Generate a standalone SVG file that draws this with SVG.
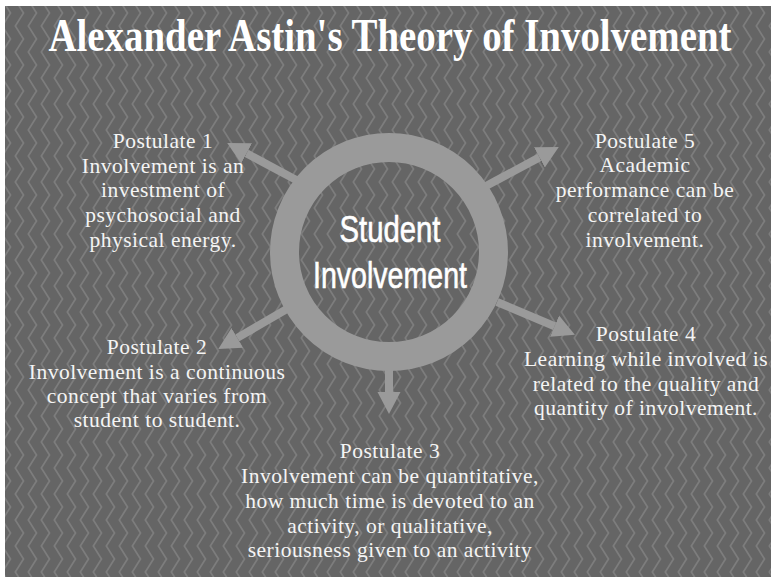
<svg xmlns="http://www.w3.org/2000/svg" width="771" height="577" viewBox="0 0 771 577">
<defs>
<pattern id="zig" x="0" y="0" width="13" height="26" patternUnits="userSpaceOnUse">
<rect width="13" height="26" fill="#656565"/>
<polyline points="2,-0.5 10.5,13 2,26.5" fill="none" stroke="#7d7d7d" stroke-width="1.7"/>
</pattern>
<marker id="head" markerUnits="userSpaceOnUse" markerWidth="24" markerHeight="26" refX="0" refY="12" orient="auto" viewBox="0 0 24 24">
<path d="M0,0.5 L22,12 L0,23.5 z" fill="#9a9a9a"/>
</marker>
<style>
.post{font-family:"Liberation Serif","Times New Roman",serif;font-size:21.5px;letter-spacing:0.5px;fill:#f4f4f4;text-anchor:middle}
.arrow{stroke:#9a9a9a;stroke-width:8;fill:none;marker-end:url(#head)}
.ctr{font-family:"Liberation Sans",sans-serif;font-size:37px;fill:#ffffff;stroke:#ffffff;stroke-width:0.6;text-anchor:middle}
</style>
</defs>
<rect width="771" height="577" fill="#ffffff"/>
<rect x="5" y="6" width="766" height="571" fill="url(#zig)"/>
<g id="title" transform="translate(390,51) scale(1,1.15)">
<text x="0" y="0" font-family="Liberation Serif, serif" font-weight="bold" font-size="40" fill="#ffffff" text-anchor="middle" textLength="683" lengthAdjust="spacingAndGlyphs">Alexander Astin's Theory of Involvement</text>
</g>
<g id="connectors">
<line class="arrow" x1="300" y1="182" x2="246.6" y2="153.4"/>
<line class="arrow" x1="486" y1="186" x2="539.4" y2="157.4"/>
<line class="arrow" x1="292" y1="306" x2="237.3" y2="337.9"/>
<line class="arrow" x1="497" y1="302" x2="554.6" y2="326.2"/>
<line class="arrow" x1="389" y1="370" x2="389" y2="392"/>
</g>
<g id="center">
<circle cx="389" cy="252" r="104.5" fill="none" stroke="#9a9a9a" stroke-width="29"/>
<text class="ctr" x="390" y="242" textLength="101" lengthAdjust="spacingAndGlyphs">Student</text>
<text class="ctr" x="390" y="288" textLength="154" lengthAdjust="spacingAndGlyphs">Involvement</text>
</g>
<g id="postulate1">
<text class="post" x="163" y="148">Postulate 1</text>
<text class="post" x="163" y="173">Involvement is an</text>
<text class="post" x="163" y="197">investment of</text>
<text class="post" x="163" y="222">psychosocial and</text>
<text class="post" x="163" y="247">physical energy.</text>
</g>
<g id="postulate5">
<text class="post" x="645" y="148">Postulate 5</text>
<text class="post" x="645" y="172">Academic</text>
<text class="post" x="645" y="197">performance can be</text>
<text class="post" x="645" y="222">correlated to</text>
<text class="post" x="645" y="247">involvement.</text>
</g>
<g id="postulate2">
<text class="post" x="157" y="354">Postulate 2</text>
<text class="post" x="157" y="379">Involvement is a continuous</text>
<text class="post" x="157" y="403">concept that varies from</text>
<text class="post" x="157" y="427">student to student.</text>
</g>
<g id="postulate4">
<text class="post" x="646" y="341">Postulate 4</text>
<text class="post" x="646" y="366">Learning while involved is</text>
<text class="post" x="646" y="391">related to the quality and</text>
<text class="post" x="646" y="415">quantity of involvement.</text>
</g>
<g id="postulate3">
<text class="post" x="390" y="458">Postulate 3</text>
<text class="post" x="390" y="483">Involvement can be quantitative,</text>
<text class="post" x="390" y="508">how much time is devoted to an</text>
<text class="post" x="390" y="533">activity, or qualitative,</text>
<text class="post" x="390" y="557">seriousness given to an activity</text>
</g>
</svg>
